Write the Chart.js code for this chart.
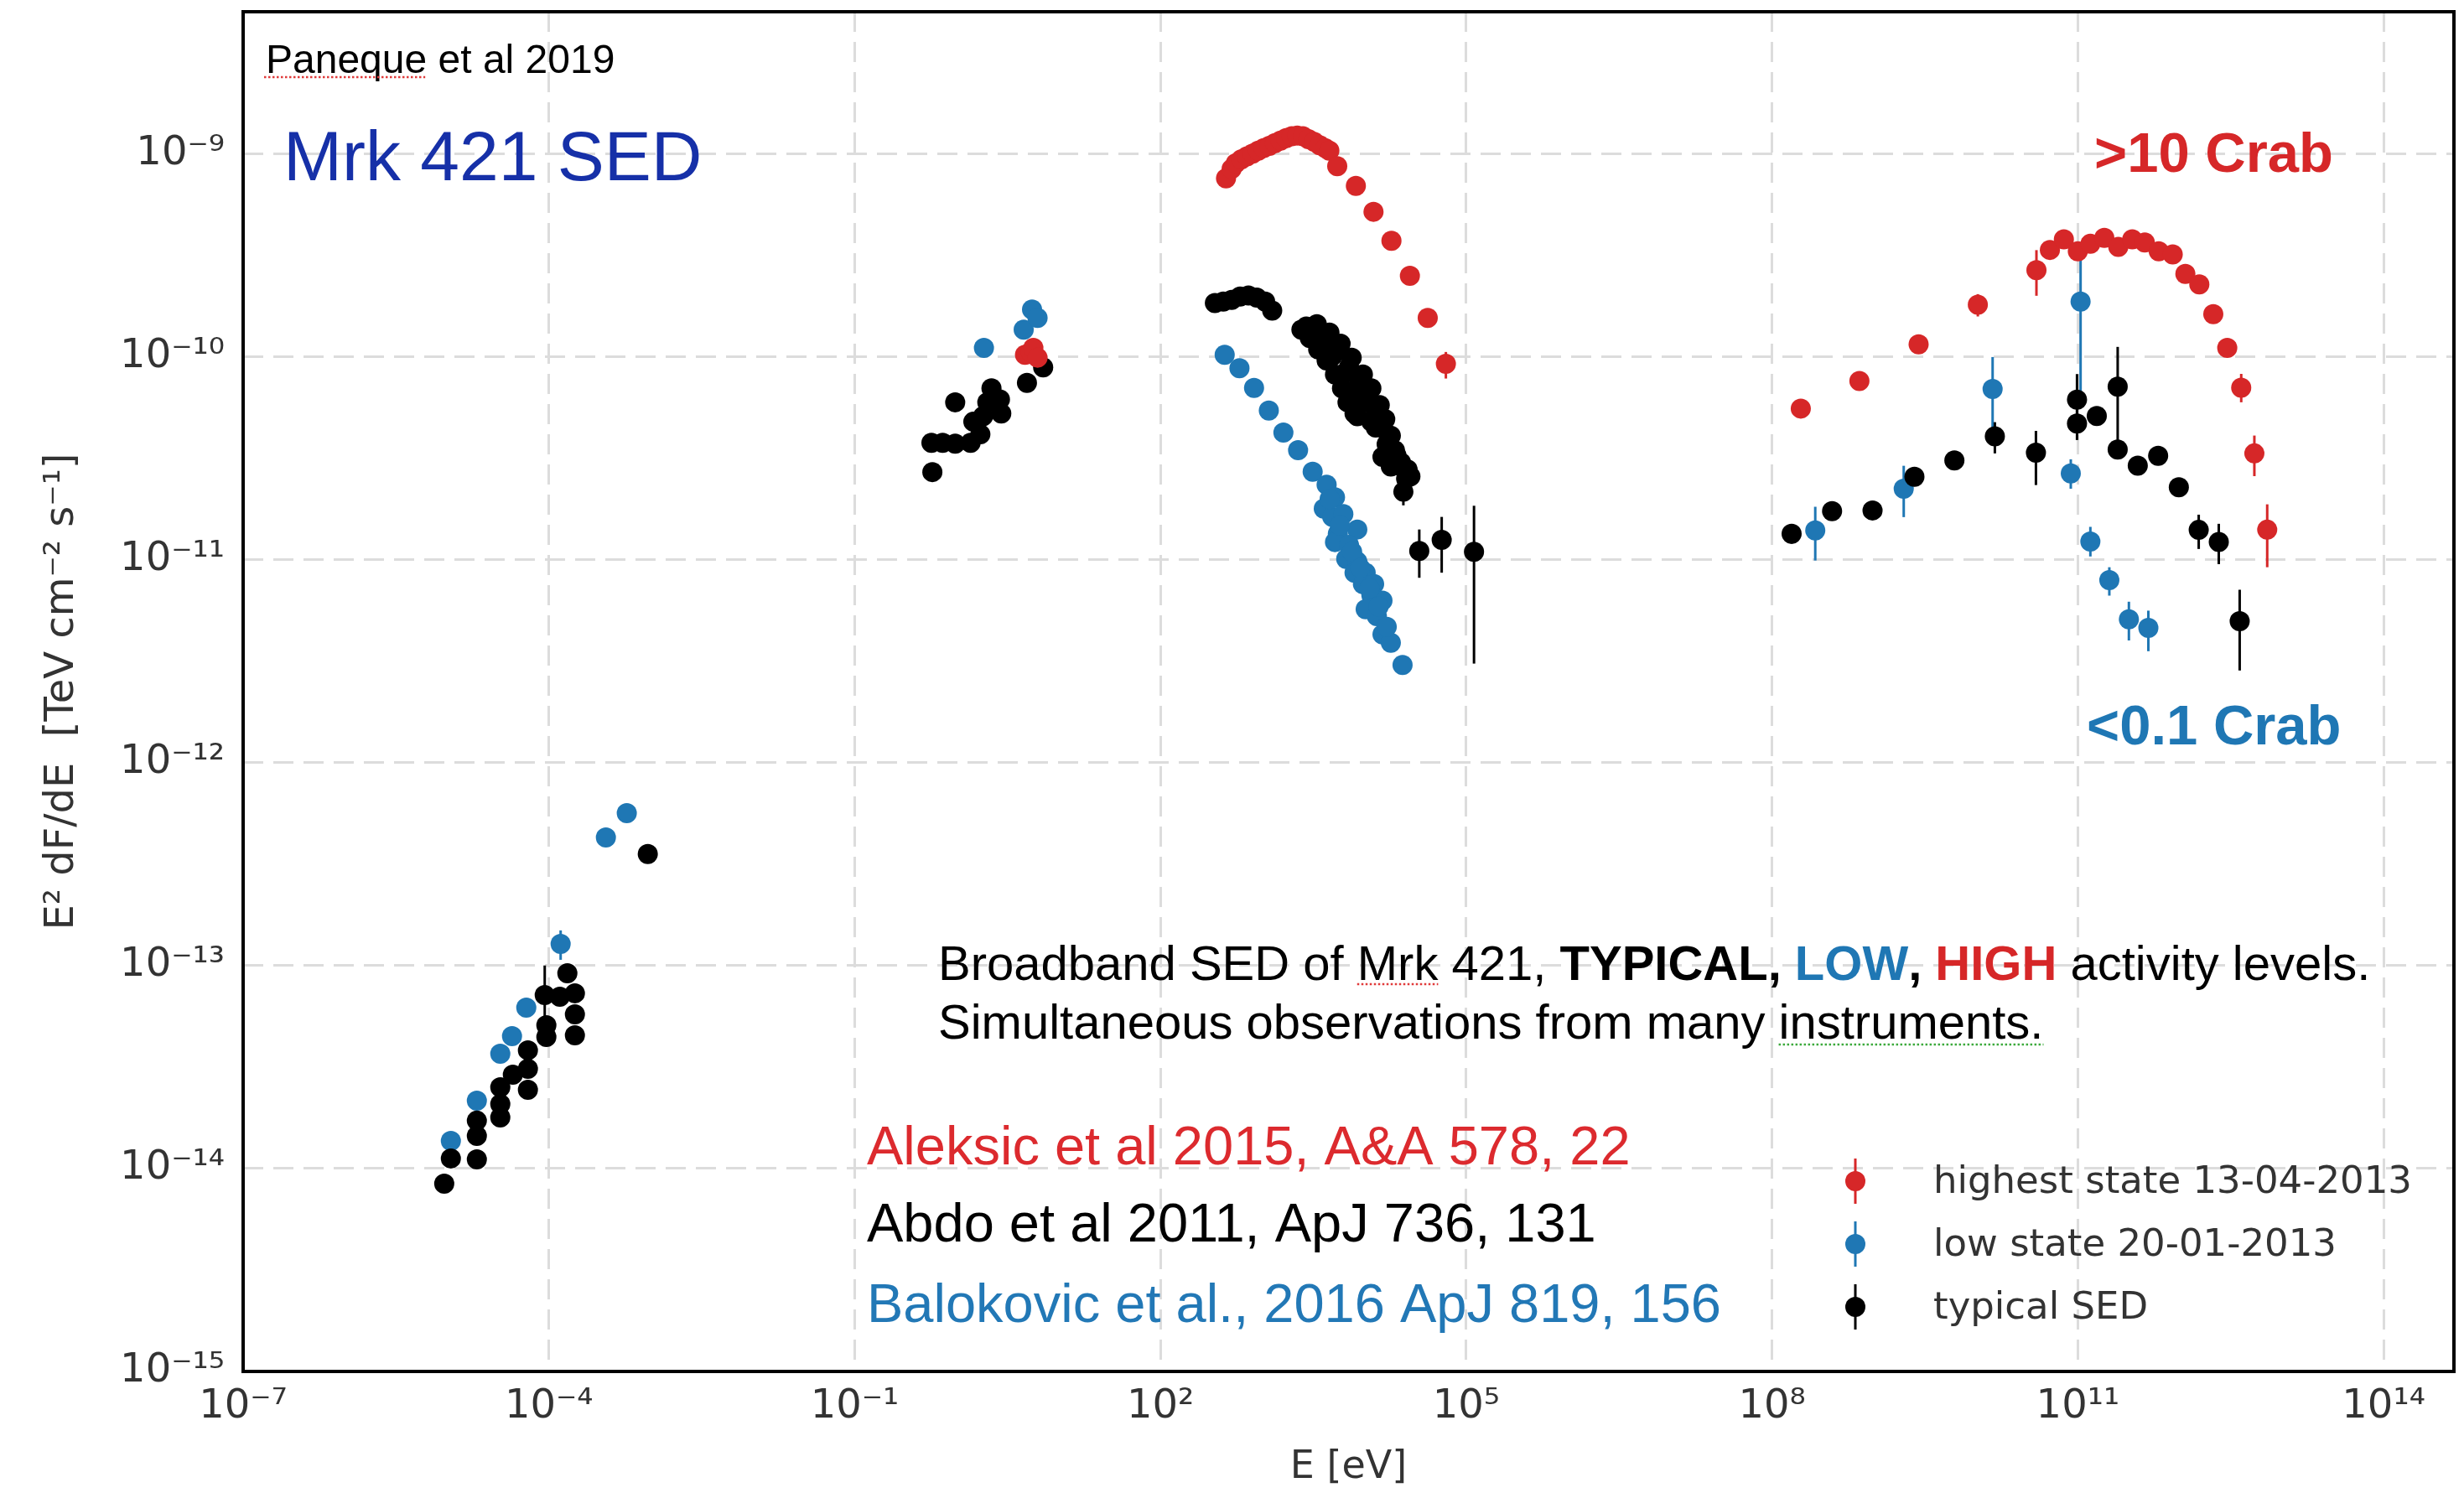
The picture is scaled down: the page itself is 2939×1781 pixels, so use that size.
<!DOCTYPE html>
<html><head><meta charset="utf-8">
<script src="https://cdn.jsdelivr.net/npm/chart.js@4.4.0/dist/chart.umd.min.js"></script>
<style>html,body{margin:0;padding:0;background:#fff;}canvas{display:block;}</style>
</head><body>
<canvas id="c" width="2939" height="1781"></canvas>
<script>
// ---- DATA (log10 of E [eV] and log10 of E^2 dF/dE [TeV cm^-2 s^-1]) ----
const legendLabels = ['highest state 13-04-2013', 'low state 20-01-2013', 'typical SED'];

const xTickExps = [-7, -4, -1, 2, 5, 8, 11, 14];
const xTickLabels = ['10⁻⁷', '10⁻⁴', '10⁻¹', '10²', '10⁵', '10⁸', '10¹¹', '10¹⁴'];
const yTickExps = [-15, -14, -13, -12, -11, -10, -9];
const yTickLabels = ['10⁻¹⁵', '10⁻¹⁴', '10⁻¹³', '10⁻¹²', '10⁻¹¹', '10⁻¹⁰', '10⁻⁹'];

// highest state (red)
const highLogE = [0.671, 0.726, 0.753, 0.794,
  2.643, 2.698, 2.739, 2.794, 2.849, 2.904, 2.959, 3.013, 3.068, 3.123, 3.178, 3.233, 3.288, 3.342,
  3.397, 3.452, 3.507, 3.562, 3.616, 3.657, 3.734, 3.917, 4.090, 4.266, 4.447, 4.622, 4.800,
  8.282, 8.857, 9.438, 10.019, 10.594, 10.726, 10.863, 11.000, 11.123, 11.260, 11.397, 11.534,
  11.657, 11.794, 11.931, 12.055, 12.192, 12.329, 12.466, 12.603, 12.732, 12.858];
const highLogF = [-9.989, -9.975, -9.955, -10.003,
  -9.119, -9.073, -9.045, -9.025, -9.011, -8.997, -8.983, -8.970, -8.959, -8.946, -8.933, -8.921, -8.912, -8.908,
  -8.912, -8.926, -8.939, -8.956, -8.970, -8.983, -9.059, -9.156, -9.284, -9.427, -9.600, -9.807, -10.033,
  -10.254, -10.118, -9.937, -9.742, -9.572, -9.472, -9.420, -9.479, -9.442, -9.413, -9.457, -9.420,
  -9.435, -9.479, -9.494, -9.590, -9.642, -9.789, -9.955, -10.151, -10.475, -10.851];
const highErr = [[4.800, -9.975, -10.106], [10.019, -9.69, -9.80], [10.594, -9.473, -9.698],
  [12.603, -10.083, -10.223], [12.732, -10.387, -10.587], [12.858, -10.726, -11.036]];

// low state (blue)
const lowLogE = [-4.962, -4.707, -4.477, -4.362, -4.222, -3.885, -3.441, -3.236,
  0.268, 0.658, 0.740, 0.794,
  2.630, 2.775, 2.918, 3.063, 3.206, 3.350, 3.493, 3.630, 3.712, 3.602, 3.685, 3.794, 3.931, 3.740,
  3.712, 3.849, 3.822, 3.931, 3.904, 4.013, 3.986, 4.096, 4.069, 4.178, 4.013, 4.123, 4.178, 4.260, 4.375,
  3.660, 3.760, 3.880, 3.960, 4.050, 4.140, 4.220,
  8.424, 9.292, 10.164, 10.931, 11.027, 11.123, 11.309, 11.501, 11.692];
const lowLogF = [-13.864, -13.665, -13.434, -13.347, -13.207, -12.893, -12.368, -12.248,
  -9.955, -9.865, -9.766, -9.807,
  -9.989, -10.055, -10.152, -10.264, -10.372, -10.459, -10.565, -10.629, -10.691, -10.747, -10.788, -10.774, -10.850, -10.871,
  -10.912, -10.926, -10.995, -11.008, -11.063, -11.063, -11.119, -11.119, -11.174, -11.201, -11.243, -11.277, -11.367, -11.408, -11.518,
  -10.700, -10.830, -10.960, -11.040, -11.140, -11.230, -11.330,
  -10.855, -10.649, -10.157, -10.574, -9.727, -10.909, -11.099, -11.293, -11.335];
const lowErr = [[-3.885, -12.826, -12.971], [8.424, -10.738, -11.003], [9.292, -10.536, -10.789],
  [10.164, -10.0, -10.393], [10.931, -10.504, -10.649], [11.027, -9.51, -10.25], [11.123, -10.837, -10.983],
  [11.309, -11.036, -11.176], [11.501, -11.206, -11.397], [11.692, -11.250, -11.450]];

// typical SED (black)
const typLogE = [-5.027, -4.962, -4.707, -4.707, -4.707, -4.477, -4.477, -4.477, -4.354, -4.206, -4.206, -4.206,
  -4.041, -4.025, -4.025, -3.893, -3.819, -3.745, -3.745, -3.745, -3.030,
  -0.247, -0.238, -0.137, -0.014, -0.014, 0.137, 0.164, 0.233, 0.260, 0.301, 0.342, 0.425, 0.438, 0.690, 0.849,
  2.534, 2.616, 2.698, 2.781, 2.863, 2.945, 3.027, 3.096,
  3.383, 3.465, 3.534, 3.547, 3.586, 3.630, 3.658, 3.685, 3.712, 3.767, 3.781, 3.808, 3.835, 3.876, 3.904,
  3.915, 3.931, 3.986, 4.013, 4.069, 4.069, 4.112, 4.151, 4.178, 4.205, 4.219, 4.260, 4.260, 4.315, 4.326,
  4.383, 4.424, 4.452,
  3.430, 3.500, 3.610, 3.740, 3.850, 3.950, 4.040, 4.120, 4.180, 4.240, 4.300, 4.360, 4.410,
  4.539, 4.759, 5.076,
  8.192, 8.589, 8.986, 9.397, 9.789, 10.186, 10.589, 10.992, 10.992, 11.186, 11.391, 11.391, 11.588,
  11.788, 11.991, 12.186, 12.383, 12.588];
const typLogF = [-14.074, -13.950, -13.764, -13.839, -13.955, -13.599, -13.682, -13.748, -13.537, -13.417, -13.508, -13.612,
  -13.145, -13.293, -13.351, -13.153, -13.037, -13.136, -13.240, -13.343, -12.450,
  -10.423, -10.567, -10.423, -10.427, -10.223, -10.423, -10.319, -10.381, -10.292, -10.223, -10.154, -10.209, -10.278, -10.127, -10.051,
  -9.734, -9.727, -9.718, -9.702, -9.697, -9.707, -9.727, -9.771,
  -9.865, -9.906, -9.838, -9.962, -9.934, -10.017, -9.879, -9.996, -10.086, -9.934, -10.154, -10.079, -10.223, -10.003, -10.278,
  -10.161, -10.292, -10.086, -10.223, -10.154, -10.319, -10.347, -10.237, -10.492, -10.306, -10.430, -10.388, -10.540, -10.485, -10.533,
  -10.664, -10.554, -10.588,
  -9.850, -9.870, -9.900, -9.970, -10.050, -10.120, -10.190, -10.270, -10.350, -10.420, -10.460, -10.520, -10.600,
  -10.956, -10.901, -10.960,
  -10.871, -10.760, -10.756, -10.590, -10.510, -10.391, -10.471, -10.210, -10.328, -10.291, -10.146, -10.456, -10.535,
  -10.487, -10.642, -10.852, -10.911, -11.302];
const typErr = [[-4.041, -12.999, -13.25], [4.383, -10.60, -10.731], [4.539, -10.850, -11.088],
  [4.759, -10.788, -11.063], [5.076, -10.733, -11.511], [8.192, -10.83, -10.92], [9.397, -10.55, -10.63],
  [9.789, -10.48, -10.55], [10.186, -10.321, -10.475], [10.589, -10.364, -10.631], [10.992, -10.084, -10.30],
  [10.992, -10.25, -10.409], [11.391, -9.950, -10.453], [12.186, -10.777, -10.946], [12.383, -10.822, -11.021],
  [12.588, -11.147, -11.545]];

// ---- styling ----
const RED = '#d62728', BLUE = '#1f77b4', BLACK = '#000000';
const AXIS_FONT = 'DejaVu Sans';
const TXT_FONT = '"Liberation Sans", Arial, Helvetica, sans-serif';

const toPts = (le, lf) => le.map((e, i) => ({x: Math.pow(10, e), y: Math.pow(10, lf[i])}));

const errBars = {
  id: 'errBars',
  beforeDatasetsDraw(chart) {
    const {ctx, chartArea: a, scales: {x, y}} = chart;
    ctx.save();
    ctx.beginPath(); ctx.rect(a.left, a.top, a.right - a.left, a.bottom - a.top); ctx.clip();
    ctx.lineWidth = 3; ctx.lineCap = 'butt';
    [[lowErr, BLUE], [typErr, BLACK], [highErr, RED]].forEach(([errs, col]) => {
      ctx.strokeStyle = col;
      errs.forEach(([e, lo, hi]) => {
        const px = x.getPixelForValue(Math.pow(10, e));
        ctx.beginPath();
        ctx.moveTo(px, y.getPixelForValue(Math.pow(10, lo)));
        ctx.lineTo(px, y.getPixelForValue(Math.pow(10, hi)));
        ctx.stroke();
      });
    });
    ctx.restore();
  }
};

function dotted(ctx, x1, x2, y, col) {
  ctx.save();
  ctx.strokeStyle = col; ctx.lineWidth = 2.5; ctx.setLineDash([2.5, 2.5]);
  ctx.beginPath(); ctx.moveTo(x1, y); ctx.lineTo(x2, y); ctx.stroke();
  ctx.restore();
}

const overlay = {
  id: 'overlay',
  afterDraw(chart) {
    const {ctx, chartArea: a} = chart;
    ctx.save();
    // frame
    ctx.strokeStyle = '#000'; ctx.lineWidth = 4;
    ctx.strokeRect(a.left, a.top, a.right - a.left, a.bottom - a.top);

    ctx.textAlign = 'left'; ctx.textBaseline = 'alphabetic';
    // Paneque et al 2019
    ctx.font = '48px ' + TXT_FONT; ctx.fillStyle = '#000';
    ctx.fillText('Paneque et al 2019', 317, 87);
    dotted(ctx, 315, 315 + ctx.measureText('Paneque').width, 92, '#e03a3a');
    // Mrk 421 SED
    ctx.font = '84px ' + TXT_FONT; ctx.fillStyle = '#1630a8';
    ctx.fillText('Mrk 421 SED', 338, 215);
    // Crab labels
    ctx.font = 'bold 67px ' + TXT_FONT;
    ctx.fillStyle = RED; ctx.fillText('>10 Crab', 2498, 205);
    ctx.fillStyle = BLUE; ctx.fillText('<0.1 Crab', 2489, 888);

    // Broadband line
    const segs = [['Broadband SED of Mrk 421, ', false, '#000'], ['TYPICAL, ', true, '#000'], ['LOW', true, BLUE],
      [', ', true, '#000'], ['HIGH', true, RED], [' activity levels.', false, '#000']];
    let x = 1119;
    segs.forEach(([t, b, c]) => {
      ctx.font = (b ? 'bold ' : '') + '58px ' + TXT_FONT; ctx.fillStyle = c;
      ctx.fillText(t, x, 1169);
      if (t.startsWith('Broadband')) {
        const x0 = x + ctx.measureText('Broadband SED of ').width;
        dotted(ctx, x0, x0 + ctx.measureText('Mrk').width, 1174, '#e03a3a');
      }
      x += ctx.measureText(t).width;
    });
    ctx.font = '58px ' + TXT_FONT; ctx.fillStyle = '#000';
    const l2 = 'Simultaneous observations from many instruments.';
    ctx.fillText(l2, 1119, 1239);
    const x0 = 1119 + ctx.measureText('Simultaneous observations from many ').width;
    dotted(ctx, x0, x0 + ctx.measureText('instruments.').width, 1246, '#3caa3c');

    // References
    ctx.font = '65px ' + TXT_FONT;
    ctx.fillStyle = '#dc2a2e'; ctx.fillText('Aleksic et al 2015, A&A 578, 22', 1034, 1389);
    ctx.fillStyle = '#000'; ctx.fillText('Abdo et al 2011, ApJ 736, 131', 1034, 1481);
    ctx.fillStyle = '#2278b6'; ctx.fillText('Balokovic et al., 2016 ApJ 819, 156', 1034, 1577);

    // Legend
    const cols = [RED, BLUE, BLACK];
    ctx.textBaseline = 'middle';
    cols.forEach((c, i) => {
      const ly = 1409 + i * 75, lx = 2213;
      ctx.strokeStyle = c; ctx.lineWidth = 3;
      ctx.beginPath(); ctx.moveTo(lx, ly - 27); ctx.lineTo(lx, ly + 27); ctx.stroke();
      ctx.fillStyle = c; ctx.beginPath(); ctx.arc(lx, ly, 12, 0, Math.PI * 2); ctx.fill();
      ctx.font = '45px ' + AXIS_FONT; ctx.fillStyle = '#333';
      ctx.fillText(chart.data.datasets[i].label, 2306, ly + 2);
    });
    ctx.restore();
  }
};

const ds = (label, le, lf, col, order) => ({
  label, data: toPts(le, lf), backgroundColor: col, borderColor: col,
  pointRadius: 12, pointHoverRadius: 12, pointBorderWidth: 0, showLine: false, order
});

new Chart(document.getElementById('c'), {
  type: 'scatter',
  data: {datasets: [
    ds(legendLabels[0], highLogE, highLogF, RED, 0),
    ds(legendLabels[1], lowLogE, lowLogF, BLUE, 2),
    ds(legendLabels[2], typLogE, typLogF, BLACK, 1)
  ]},
  options: {
    responsive: false, animation: false, devicePixelRatio: 1,
    layout: {padding: {left: 0, right: 11, top: 14, bottom: 0}},
    plugins: {legend: {display: false}, tooltip: {enabled: false}},
    scales: {
      x: {
        type: 'logarithmic', position: 'bottom', min: 1e-7, max: Math.pow(10, 14.69),
        afterBuildTicks: s => { s.ticks = xTickExps.map(e => ({value: Math.pow(10, e)})); },
        afterFit: s => { s.height = 145; s.paddingLeft = 0; s.paddingRight = 0; },
        ticks: {
          callback: v => xTickLabels[xTickExps.indexOf(Math.round(Math.log10(v)))],
          font: {family: AXIS_FONT, size: 48}, color: '#333', padding: 14, maxRotation: 0, autoSkip: false
        },
        grid: {color: '#dcdcdc', lineWidth: 3, drawTicks: false},
        border: {display: false, dash: [24, 12]},
        title: {display: true, text: 'E [eV]', font: {family: AXIS_FONT, size: 46}, color: '#333', padding: {top: 0, bottom: 2}}
      },
      y: {
        type: 'logarithmic', position: 'left', min: 1e-15, max: Math.pow(10, -8.298),
        afterBuildTicks: s => { s.ticks = yTickExps.map(e => ({value: Math.pow(10, e)})); },
        afterFit: s => { s.width = 290; s.paddingTop = 0; s.paddingBottom = 0; },
        ticks: {
          callback: v => yTickLabels[yTickExps.indexOf(Math.round(Math.log10(v)))],
          font: {family: AXIS_FONT, size: 48}, color: '#333', padding: 22, autoSkip: false
        },
        grid: {color: '#dcdcdc', lineWidth: 3, drawTicks: false},
        border: {display: false, dash: [24, 12]},
        title: {display: true, text: 'E² dF/dE  [TeV cm⁻² s⁻¹]', font: {family: AXIS_FONT, size: 48}, color: '#333', padding: {top: 46, bottom: 0}}
      }
    }
  },
  plugins: [errBars, overlay]
});
</script>
</body></html>
